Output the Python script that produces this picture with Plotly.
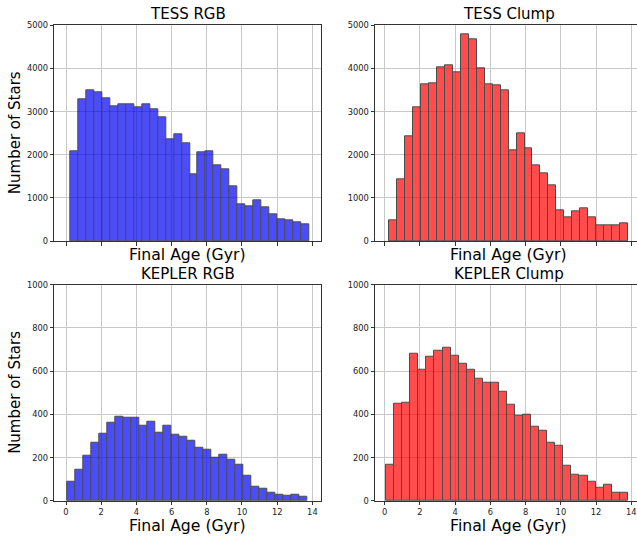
import numpy as np
import plotly.graph_objects as go

W, H = 637, 542

# Histogram data (30 bins each)
tess_rgb_range = (0.27, 13.80)
tess_rgb_counts = [2090, 3290, 3490, 3450, 3300, 3130, 3170, 3170, 3100, 3180,
                   3050, 2860, 2360, 2470, 2270, 1550, 2060, 2070, 1750, 1660,
                   1270, 850, 800, 940, 790, 620, 510, 490, 430, 380]

tess_clump_range = (0.27, 13.80)
tess_clump_counts = [480, 1440, 2420, 3090, 3630, 3660, 4030, 4080, 3910, 4800,
                     4670, 4000, 3630, 3600, 3490, 2110, 2500, 2150, 1750, 1580,
                     1300, 720, 540, 700, 770, 560, 370, 360, 360, 400]

kepler_rgb_range = (0.10, 13.72)
kepler_rgb_counts = [90, 145, 210, 268, 313, 362, 390, 385, 385, 347,
                     368, 316, 346, 308, 297, 277, 245, 237, 202, 215,
                     190, 168, 115, 65, 55, 40, 27, 23, 27, 20]

kepler_clump_range = (0.08, 13.80)
kepler_clump_counts = [168, 450, 455, 682, 607, 668, 697, 707, 670, 633,
                       607, 563, 548, 548, 503, 445, 395, 400, 342, 325,
                       270, 255, 165, 122, 118, 90, 63, 77, 40, 40]

titles = ["TESS RGB", "TESS Clump", "KEPLER RGB", "KEPLER Clump"]
x_ticks = [0, 2, 4, 6, 8, 10, 12, 14]

BLUE = "rgb(0,0,255)"
RED = "rgb(255,0,0)"

# pixel layout
left_px = (54.3, 321.0)
right_px = (375.0, 637.0)
top_px = (20.7, 240.5)
bot_px = (285.0, 505.3)

def xd(p):
    return [p[0] / W, p[1] / W]

def yd(p):
    return [1 - p[1] / H, 1 - p[0] / H]

panels = [
    dict(counts=tess_rgb_counts, rng=tess_rgb_range, color=BLUE, xdom=left_px, ydom=top_px,
         xr=[-0.665, 14.49], yr=[0, 5000], dy=1000, xlabels=False, right=False, xl=254, tl=9.5),
    dict(counts=tess_clump_counts, rng=tess_clump_range, color=RED, xdom=right_px, ydom=top_px,
         xr=[-0.55, 14.32], yr=[0, 5000], dy=1000, xlabels=False, right=True, xl=254, tl=9.5),
    dict(counts=kepler_rgb_counts, rng=kepler_rgb_range, color=BLUE, xdom=left_px, ydom=bot_px,
         xr=[-0.665, 14.49], yr=[0, 1000], dy=200, xlabels=True, right=False, xl=530, tl=274),
    dict(counts=kepler_clump_counts, rng=kepler_clump_range, color=RED, xdom=right_px, ydom=bot_px,
         xr=[-0.55, 14.32], yr=[0, 1000], dy=200, xlabels=True, right=True, xl=530, tl=274),
]

fig = go.Figure()
layout = {}
annotations = []
FONT = "DejaVu Sans"
for i, p in enumerate(panels):
    n = i + 1
    xa = "x" if n == 1 else f"x{n}"
    ya = "y" if n == 1 else f"y{n}"
    edges = np.linspace(p["rng"][0], p["rng"][1], len(p["counts"]) + 1)
    centers = (edges[:-1] + edges[1:]) / 2
    width = edges[1] - edges[0]
    fig.add_trace(go.Bar(x=centers, y=p["counts"], width=width,
                         marker=dict(color=p["color"], line=dict(color="black", width=1)),
                         opacity=0.7, xaxis=xa, yaxis=ya, showlegend=False,
                         hoverinfo="skip"))
    layout["xaxis" if n == 1 else f"xaxis{n}"] = dict(
        domain=xd(p["xdom"]), anchor=ya, range=p["xr"], tickmode="array",
        tickvals=x_ticks, showticklabels=p["xlabels"], ticks="outside", ticklen=3.5,
        tickwidth=0.8, tickcolor="#333", showgrid=True, gridcolor="#c8c8c8", gridwidth=1,
        showline=True, linecolor="#333", linewidth=1, mirror=True, zeroline=False,
        tickfont=dict(family=FONT, size=8.3, color="#222"))
    layout["yaxis" if n == 1 else f"yaxis{n}"] = dict(
        domain=yd(p["ydom"]), anchor=xa, range=p["yr"], dtick=p["dy"], tick0=0,
        ticks="outside", ticklen=3.5, tickwidth=0.8, tickcolor="#333",
        showgrid=True, gridcolor="#c8c8c8", gridwidth=1,
        showline=True, linecolor="#333", linewidth=1, mirror=not p["right"], zeroline=False,
        tickfont=dict(family=FONT, size=8.3, color="#222"))
    cx_px = (p["xdom"][0] + (p["xdom"][1] if not p["right"] else 642.0)) / 2
    # title
    annotations.append(dict(text=titles[i], x=cx_px / W, y=1 - p["tl"] / H,
                            xref="paper", yref="paper", showarrow=False,
                            xanchor="center", yanchor="middle",
                            font=dict(family=FONT, size=15, color="black")))
    # x label
    annotations.append(dict(text="Final Age (Gyr)", x=cx_px / W, y=1 - p["xl"] / H,
                            xref="paper", yref="paper", showarrow=False,
                            xanchor="center", yanchor="middle",
                            font=dict(family=FONT, size=15.7, color="black")))
    if not p["right"]:
        annotations.append(dict(text="Number of Stars", x=15 / W,
                                y=1 - ((p["ydom"][0] + p["ydom"][1]) / 2) / H,
                                xref="paper", yref="paper", showarrow=False, textangle=-90,
                                xanchor="center", yanchor="middle",
                                font=dict(family=FONT, size=15, color="black")))

fig.update_layout(**layout)
fig.update_layout(width=W, height=H, margin=dict(l=0, r=0, t=0, b=0),
                  paper_bgcolor="white", plot_bgcolor="white", bargap=0,
                  annotations=annotations)
fig.write_html("out.html")
